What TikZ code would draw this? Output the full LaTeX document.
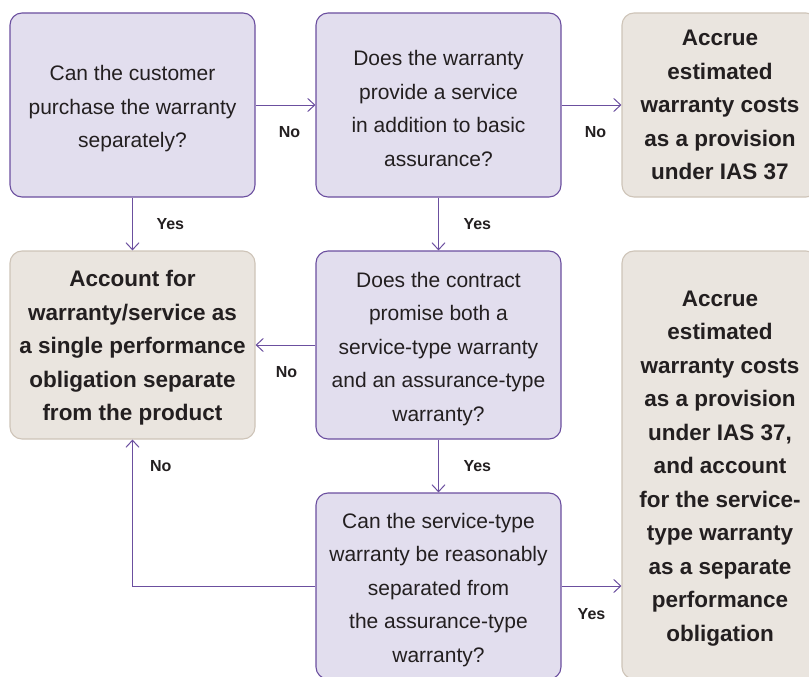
\documentclass[tikz,border=0pt]{standalone}
\usepackage{fontspec}
\setmainfont{Liberation Sans}
\usepackage{xcolor}
\usepackage {tikz}
\usetikzlibrary{positioning,arrows.meta}
\definecolor{qfill}{HTML}{E2DEEE}
\definecolor{qline}{HTML}{6B4F9F}
\definecolor{rfill}{HTML}{EAE5DF}
\definecolor{rline}{HTML}{CEC4B8}
\definecolor{ink}{HTML}{231F20}
\newcommand{\lift}{\rule{0pt}{22.5pt}}

\begin{document}
\begin{tikzpicture}[x=1pt, y=-1pt,
	qbox/.style={rectangle, rounded corners=12pt, draw=qline, fill=qfill, line width=1.1pt, text=ink, align=center, inner sep=0, font=\fontsize{21}{33.5}\selectfont},
	rbox/.style={rectangle, rounded corners=12pt, draw=rline, fill=rfill, line width=1.1pt, text=ink, align=center, inner sep=0, font=\bfseries\fontsize{22.5}{33.5}\selectfont},
	lbl/.style={font=\bfseries\fontsize{16}{18}\selectfont, text=ink, inner sep=0},
	arr/.style={draw=qline, line width=1pt, -{Straight Barb[length=7pt,width=13pt]}}]
\useasboundingbox (0,0) rectangle (809,677);
\node[qbox, minimum width=245pt, minimum height=184pt] at(132.5,105) (buy) {\lift Can the customer\\purchase the warranty\\separately?};
\node[qbox, minimum width=245pt, minimum height=184pt] at(438.5,105) (svc) {\lift Does the warranty\\provide a service\\in addition to basic\\assurance?};
\node[rbox, minimum width=196pt, minimum height=184pt] at(720,105) (ias) {Accrue\\estimated\\warranty costs\\as a provision\\under IAS 37};
\node[rbox, minimum width=245pt, minimum height=188pt] at(132.5,345) (single) {\lift Account for\\warranty/service as\\a single performance\\obligation separate\\from the product};
\node[qbox, minimum width=245pt, minimum height=188pt] at(438.5,345) (both) {\lift Does the contract\\promise both a\\service-type warranty\\and an assurance-type\\warranty?};
\node[qbox, minimum width=245pt, minimum height=186pt] at(438.5,586) (sep) {\lift Can the service-type\\warranty be reasonably\\separated from\\the assurance-type\\warranty?};
\node[rbox, minimum width=196pt, minimum height=428pt] at(720,465) (split) {\lift Accrue\\estimated\\warranty costs\\as a provision\\under IAS 37,\\and account\\for the service-\\type warranty\\as a separate\\performance\\obligation};
\path[arr]
	(buy) edge node[lbl, below=21pt, xshift=4pt] {No} (svc)
	(svc) edge node[lbl, below=21pt, xshift=4pt] {No} (ias)
	(buy) edge node[lbl, right=23.5pt] {Yes} (single)
	(svc) edge node[lbl, right=24.5pt] {Yes} (both)
	(both) edge node[lbl, below=21pt, xshift=1pt] {No} (single)
	(both) edge node[lbl, right=24.5pt] {Yes} (sep);
\draw[arr] (sep.east) -- node[lbl, below=22pt] {Yes} (sep.east -| split.west);
\draw[arr] (sep.west) -| node[lbl, pos=0.91, right=17pt] {No} (single.south);
\end{tikzpicture}
\end{document}
